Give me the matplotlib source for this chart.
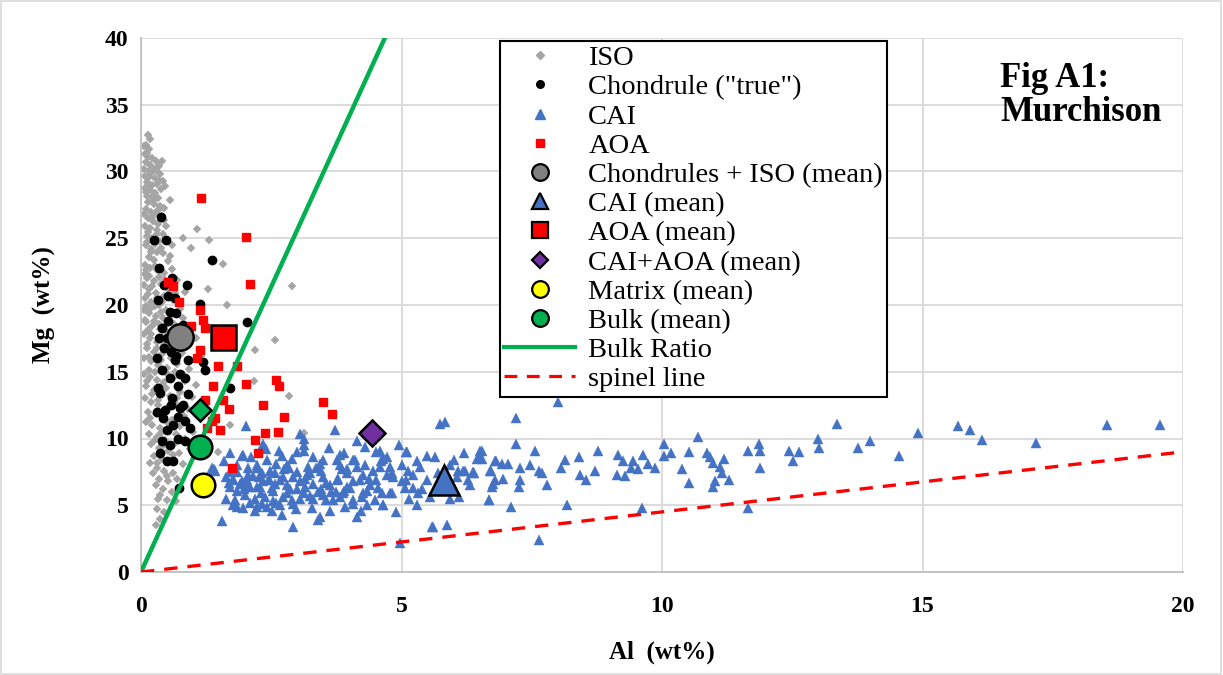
import matplotlib
matplotlib.use("Agg")
import matplotlib.pyplot as plt
from matplotlib.patches import Rectangle
from matplotlib.lines import Line2D

# ---------------- data (Al wt%, Mg wt%) ----------------
iso_al = [0.13,0.18,0.10,0.16,0.08,0.14,0.22,0.10,0.18,0.28,0.06,0.15,0.24,0.34,0.40,
          0.08,0.16,0.26,0.36,0.12,0.22,0.30,0.42,0.07,0.18,0.27,0.38,0.47,0.11,0.21,0.33,
          0.14,0.25,0.36,0.56,0.10,0.19,0.29,0.40,0.13,0.23,0.33,0.45,
          0.08,0.18,0.30,0.42,0.12,0.22,0.35,0.50,0.60,0.10,0.20,0.30,0.42,0.55,0.80,1.07,1.31,0.96,1.57,0.15,0.25,
          0.07,0.18,0.30,0.45,0.60,0.07,0.12,0.24,0.38,0.52,0.70,0.85,0.16,0.28,0.44,0.62,0.08,0.20,0.35,1.28,2.90,1.65,
          0.05,0.15,0.28,0.42,0.60,0.80,0.10,0.22,0.36,0.50,0.72,0.95,0.05,0.18,0.30,0.45,0.62,1.05,0.12,0.25,0.40,0.58,0.78,1.15,
          0.05,0.20,0.33,0.50,0.70,0.92,0.15,2.57,2.19,
          0.05,0.18,0.30,0.45,0.62,0.85,1.05,0.10,0.24,0.38,0.55,0.75,0.98,0.08,0.20,0.33,0.50,0.68,0.90,1.12,0.14,0.28,0.42,0.60,0.82,2.17,2.84,
          0.10,0.22,0.36,0.55,0.75,1.00,1.71,0.15,0.30,0.46,0.65,0.85,0.20,0.35,0.52,0.72,0.95,1.47,0.25,0.40,0.58,0.80,0.18,3.13,
          0.30,0.45,0.62,0.23,0.35,0.52,0.70,0.28,0.42,0.60,0.36,0.33,0.50,0.68,0.31,0.45,0.36,0.28,
          0.05,0.12,0.20,0.28,0.35,0.09,0.17,0.25,0.32,0.44,0.06,0.14,0.22,0.31,0.48,0.11,0.19,0.27,0.39,0.52,
          0.09,0.16,0.26,0.34,0.47,0.57,0.05,0.13,0.21,0.31,0.41,0.66,0.10,0.18,0.26,0.38,0.48,0.75,0.07,0.14,
          0.24,0.35,0.46,0.64,0.12,0.20,0.30,0.40,0.55,0.78,0.16,0.26,0.38,0.50,0.65,0.22,0.32,0.48,0.38,0.26,
          0.12,0.40,0.70,0.18,0.50,0.68,0.45,0.62,0.30,0.50]
iso_mg = [32.7,32.4,32.0,31.7,31.3,31.1,31.0,30.7,30.5,30.8,30.2,30.0,30.2,30.4,30.8,
          29.7,29.6,29.5,29.8,29.2,29.0,29.1,29.3,28.8,28.6,28.4,28.7,28.9,28.2,28.1,28.0,
          27.7,27.6,27.4,27.9,27.2,27.0,26.9,26.7,26.5,26.3,26.1,26.4,
          25.9,25.8,25.6,25.3,25.2,25.0,24.8,24.9,24.5,24.5,24.2,24.0,23.9,23.7,25.0,25.7,24.9,24.3,23.1,23.6,23.4,
          23.0,22.8,22.6,22.4,22.7,22.3,22.0,21.8,21.6,21.2,21.9,21.0,21.2,20.9,20.7,20.4,20.5,20.2,20.0,21.2,21.4,20.0,
          19.6,19.4,19.2,19.0,19.3,19.0,18.7,18.4,18.2,18.0,18.3,18.0,17.8,17.5,17.2,17.0,17.3,17.5,16.8,16.5,16.3,16.0,16.4,16.2,
          16.0,15.8,15.5,15.3,15.6,15.2,15.1,17.4,16.6,
          14.8,14.6,14.4,14.2,14.5,14.3,14.0,13.9,13.6,13.4,13.2,13.5,13.1,13.0,12.7,12.5,12.3,12.6,12.2,12.5,12.0,11.8,11.6,11.4,11.7,14.3,13.2,
          11.2,11.0,10.8,10.6,10.9,10.5,11.0,10.3,10.1,9.9,9.7,10.0,9.6,9.3,9.1,8.9,9.2,9.0,8.7,8.5,8.3,8.1,8.2,10.4,
          7.8,7.6,7.4,7.4,7.0,6.8,7.0,6.5,6.2,6.0,5.8,5.5,5.4,5.3,4.7,4.5,4.0,3.5,
          31.9,31.4,29.9,30.1,29.4,28.5,28.9,27.9,27.1,27.3,26.8,25.5,26.6,25.3,25.9,24.7,24.0,24.6,24.3,23.3,
          22.6,22.2,22.9,22.1,21.9,21.5,21.5,20.8,21.4,20.5,20.2,20.9,19.9,19.7,19.9,19.5,19.6,19.7,18.9,18.1,
          18.8,18.6,18.4,18.6,17.1,17.8,16.8,17.6,16.7,17.0,16.1,15.0,15.9,14.8,15.0,13.3,12.9,13.8,10.4,9.9,
          14.3,14.0,13.0,11.5,11.2,10.3,9.5,8.8,8.2,7.2]

chon_al = [0.38,0.25,0.48,1.37,0.35,0.88,0.33,0.52,1.13,0.56,0.68,0.52,2.03,0.40,0.62,0.75,0.90,0.45,0.58,0.90,
           1.19,1.23,0.65,0.40,0.75,0.55,0.71,0.33,1.71,0.90,0.36,0.60,0.46,0.71,0.84,0.49,0.62,0.71,0.55,0.36,
           0.49,0.61,0.73,0.80,0.45,0.60,0.50,0.68,0.85,0.42,0.58,0.75,0.30,0.35,0.80,0.65,0.95,0.85,0.40,0.30]
chon_mg = [26.6,24.9,24.9,23.4,22.8,21.5,20.4,20.7,20.1,19.5,19.4,18.8,18.7,18.3,18.0,17.0,17.3,16.8,16.5,15.9,
           15.7,15.1,15.9,15.1,14.8,14.5,13.9,13.8,13.8,13.3,13.4,13.0,12.1,11.6,11.3,10.6,11.0,10.0,9.5,8.9,
           8.3,8.3,6.3,12.5,21.5,22.0,17.5,16.2,14.5,11.5,12.5,12.3,16.0,17.5,18.5,20.5,10.8,9.8,9.8,12.0]

cai_al = [8.00,7.19,7.19,6.54,6.51,6.79,6.92,7.05,6.39,6.70,6.75,6.73,6.95,7.27,7.27,7.26,7.47,7.63,7.69,7.56,
          7.80,6.68,7.10,7.64,8.18,8.14,8.07,8.41,8.43,8.54,8.71,8.77,9.15,9.14,9.26,9.29,9.45,9.40,9.53,9.64,
          9.74,9.87,9.61,10.03,10.03,10.18,10.38,10.51,10.52,10.70,10.86,10.93,10.97,11.19,11.11,11.16,11.29,11.02,10.98,11.66,
          11.87,11.88,11.88,11.66,12.44,12.51,12.62,13.00,13.02,13.35,13.77,14.00,14.55,14.92,15.69,15.92,16.14,17.18,18.55,19.55,
          5.74,5.84,5.09,5.48,5.29,4.72,4.78,4.81,5.13,5.23,5.09,5.07,5.23,5.32,4.81,5.55,5.14,5.29,4.65,5.48,
          5.93,6.09,6.22,6.38,6.06,6.28,6.31,6.10,5.93,6.51,6.54,6.71,6.79,6.67,6.82,5.60,5.87,4.97,
          2.02,3.72,4.14,3.12,3.12,3.12,1.71,1.95,2.65,1.40,1.64,1.64,1.55,2.92,3.40,4.14,2.70,2.22,2.51,3.76,
          3.82,3.44,4.52,4.65,4.11,2.89,2.80,2.41,2.60,2.22,2.06,1.84,1.93,2.06,2.22,2.35,2.51,2.67,2.80,2.92,
          3.05,3.18,3.31,3.50,3.63,3.79,3.95,4.07,4.27,4.40,4.27,4.07,4.33,3.88,3.69,3.50,3.31,3.12,2.92,2.73,
          2.54,2.38,2.19,2.00,1.84,1.71,1.76,1.96,2.32,4.65,4.49,4.62,4.72,3.95,3.82,3.50,3.21,2.57,2.32,1.77,
          1.36,1.93,5.10,5.58,6.00,6.19,6.38,6.44,4.59,4.84,4.78,3.44,2.19,1.84,1.77,2.03,2.28,2.54,2.80,3.05,
          3.56,3.82,4.07,4.33,4.52,4.59,4.30,4.07,3.76,3.24,2.99,2.73,2.48,2.22,2.09,1.71,1.42,
          2.15,2.45,2.75,3.00,3.35,3.65,3.95,4.20,2.60,2.90,3.25,3.55,3.90,4.25,1.90,2.30,3.40,4.45,
          1.60,1.85,2.12,2.40,2.70,3.00,3.30,3.60,3.90,4.30,1.68,1.98,2.26,2.58,2.86,3.14,3.46,3.74,4.02,4.38,
          1.80,2.10,2.42,2.66,2.98,3.28,3.62,3.92,4.22,4.55,2.05,2.45,2.85,3.15,3.45,3.85,4.15,4.60,5.00,5.35,
          5.00,5.40,5.70,6.00,6.20,4.90,3.05,2.35,4.95,5.65]
cai_mg = [12.7,11.5,9.6,9.1,8.6,8.3,8.1,8.1,7.4,7.6,6.6,6.4,7.0,7.8,6.9,6.4,8.0,7.6,7.4,9.1,
          6.5,5.4,4.9,2.4,5.0,8.4,7.8,8.6,7.3,6.9,7.6,9.1,8.8,7.3,8.3,7.2,8.3,7.8,7.7,8.8,
          8.1,7.8,4.8,9.6,8.7,8.9,7.7,9.0,6.7,10.1,8.9,8.6,8.2,8.5,7.9,7.4,6.9,6.8,6.4,9.1,
          9.6,9.1,7.8,4.8,9.1,8.3,9.0,10.0,9.3,11.1,9.3,9.8,8.7,10.4,10.9,10.6,9.9,9.7,11.0,11.0,
          11.1,11.2,9.0,8.7,8.3,8.6,7.9,7.4,7.6,7.3,6.9,6.3,6.3,5.9,5.9,5.6,5.5,5.0,5.0,6.9,
          8.0,7.6,7.6,7.5,7.1,6.9,6.5,5.6,5.5,9.1,8.5,7.6,6.9,5.4,8.3,3.4,3.5,2.2,
          10.9,10.6,9.8,10.0,9.5,9.1,8.9,8.8,9.1,7.7,7.1,5.5,3.8,3.4,3.9,4.1,4.3,4.9,4.6,8.4,
          8.8,8.1,9.0,8.5,8.4,8.5,8.0,8.4,8.1,8.0,7.8,7.5,6.8,6.4,6.4,6.8,6.3,6.9,6.5,7.1,
          6.8,7.3,6.6,7.1,6.5,7.0,7.4,6.8,7.3,6.5,5.9,5.4,5.0,5.9,5.4,5.8,5.5,5.9,5.1,5.6,
          5.3,5.6,5.5,5.8,6.1,6.4,5.0,4.8,5.1,5.0,5.4,5.9,7.3,6.4,8.0,8.4,7.9,7.4,7.4,7.0,
          7.8,8.7,9.0,3.4,8.4,7.6,7.4,8.5,9.1,7.1,5.9,4.1,4.6,4.9,6.9,6.9,6.4,6.1,5.9,5.5,
          5.4,5.6,5.1,6.1,6.9,7.9,8.0,8.4,6.9,7.4,7.5,7.1,7.6,7.8,6.4,7.5,7.6,
          7.2,6.9,7.7,6.2,7.8,6.0,7.7,6.9,5.2,5.4,5.7,6.7,6.1,5.6,6.6,5.9,6.0,7.6,
          8.3,8.0,8.6,9.2,8.7,9.0,8.6,9.3,8.9,9.4,6.7,6.2,7.1,6.6,6.2,6.4,6.2,6.0,6.3,7.0,
          5.4,5.2,4.9,5.0,4.7,4.8,4.6,4.9,4.6,6.3,7.3,7.0,7.8,7.0,7.6,7.7,7.9,8.3,8.0,7.9,
          6.8,6.2,7.4,6.3,8.9,4.5,10.3,9.6,9.5,8.6]

aoa_al = [1.15,2.02,2.09,0.52,0.62,0.72,1.13,1.19,1.23,0.96,1.13,1.08,1.47,1.85,1.39,2.02,2.59,2.64,1.58,1.23,
          1.68,2.35,3.50,3.66,2.74,1.36,1.26,1.52,2.38,2.62,2.19,2.24,1.75,1.42]
aoa_mg = [28.0,25.1,21.6,21.7,21.4,20.2,19.6,18.9,18.3,18.4,16.6,16.0,15.4,15.4,13.9,14.1,14.4,13.9,12.9,12.9,
          12.2,12.5,12.7,11.8,11.6,11.3,10.8,10.6,10.4,10.5,9.9,8.9,7.8,11.5]

# means (Al, Mg)
chiso_mean = (0.75, 17.6)
cai_mean = (5.82, 6.9)
aoa_mean = (1.57, 17.6)
caiaoa_mean = (4.43, 10.4)
matrix_mean = (1.19, 6.5)
bulk_mean = (1.13, 9.4)
extra_diamond = (1.13, 12.1)

bulk_ratio_al = [0, 4.68]
bulk_ratio_mg = [0, 40]
spinel_al = [0, 20]
spinel_mg = [0, 9.0]

x_ticks = [0, 5, 10, 15, 20]
y_ticks = [0, 5, 10, 15, 20, 25, 30, 35, 40]

# ---------------- figure ----------------
plt.rcParams['font.family'] = ['Liberation Serif', 'DejaVu Serif']
fig = plt.figure(figsize=(12.23, 6.75), dpi=100)
ax = fig.add_axes([141/1223, 1-572/675, (1183-141)/1223, (572-38)/675])

ax.set_xlim(0, 20)
ax.set_ylim(0, 40)
ax.set_xticks(x_ticks)
ax.set_yticks(y_ticks)
ax.grid(True, color='#D9D9D9', linewidth=1.3, zorder=0)
ax.set_axisbelow(True)
for s in ['top', 'right']:
    ax.spines[s].set_visible(False)
for s in ['left', 'bottom']:
    ax.spines[s].set_color('#BFBFBF')
    ax.spines[s].set_linewidth(1.3)
ax.tick_params(length=0, labelsize=17)
ax.tick_params(axis='x', pad=17)
ax.tick_params(axis='y', pad=9)
for lab in ax.get_xticklabels() + ax.get_yticklabels():
    lab.set_fontweight('bold')

ax.plot(iso_al, iso_mg, linestyle='none', marker='D', ms=4.3, color='#A5A5A5', mec='#A5A5A5', mew=0.3, label='ISO', zorder=2)
ax.plot(chon_al, chon_mg, linestyle='none', marker='o', ms=6.0, color='black', label='Chondrule ("true")', zorder=3)
ax.plot(cai_al, cai_mg, linestyle='none', marker='^', ms=7.0, color='#4472C4', mec='#4472C4', mew=0.3, label='CAI', zorder=3)
ax.plot(aoa_al, aoa_mg, linestyle='none', marker='s', ms=6.4, color='#FF0000', mec='#FF0000', label='AOA', zorder=4)

ax.plot(bulk_ratio_al, bulk_ratio_mg, color='#00B050', lw=3.2, zorder=5)
ax.plot(spinel_al, spinel_mg, color='#FF0000', lw=2.4, ls=(0, (4, 3)), zorder=5)

kw = dict(linestyle='none', mec='black', mew=1.8, zorder=6)
ax.plot(*chiso_mean, marker='o', ms=19, color='#808080', **kw)
ax.plot(*cai_mean, marker='^', ms=21, color='#4472C4', **kw)
ax.plot(*aoa_mean, marker='s', ms=18, color='#FF0000', **kw)
ax.plot(*caiaoa_mean, marker='D', ms=13, color='#7030A0', **kw)
ax.plot(*matrix_mean, marker='o', ms=17, color='#FFFF00', **kw)
ax.plot(*bulk_mean, marker='o', ms=17, color='#00B050', **kw)
ax.plot(*extra_diamond, marker='D', ms=11.5, color='#00B050', **kw)

lk = dict(linestyle='none', mec='black', mew=1.6)
legend_handles = [
    Line2D([], [], marker='D', ms=3.8, color='#A5A5A5', linestyle='none'),
    Line2D([], [], marker='o', ms=5.5, color='black', linestyle='none'),
    Line2D([], [], marker='^', ms=6.5, color='#4472C4', linestyle='none'),
    Line2D([], [], marker='s', ms=6.2, color='#FF0000', linestyle='none'),
    Line2D([], [], marker='o', ms=12, color='#808080', **lk),
    Line2D([], [], marker='^', ms=12, color='#4472C4', **lk),
    Line2D([], [], marker='s', ms=12, color='#FF0000', **lk),
    Line2D([], [], marker='D', ms=8.5, color='#7030A0', **lk),
    Line2D([], [], marker='o', ms=12, color='#FFFF00', **lk),
    Line2D([], [], marker='o', ms=12, color='#00B050', **lk),
    Line2D([], [], color='#00B050', lw=3),
    Line2D([], [], color='#FF0000', lw=2.3, ls=(0, (4, 3))),
]
legend_labels = ['ISO', 'Chondrule ("true")', 'CAI', 'AOA', 'Chondrules + ISO (mean)', 'CAI (mean)',
                 'AOA (mean)', 'CAI+AOA (mean)', 'Matrix (mean)', 'Bulk (mean)', 'Bulk Ratio', 'spinel line']
leg = ax.legend(legend_handles, legend_labels, loc='upper left',
                bbox_to_anchor=((500-141)/1042, (572-41)/534), fontsize=20.5,
                frameon=True, fancybox=False, edgecolor='black', framealpha=1,
                handlelength=2.5, handletextpad=0.45, labelspacing=0.115, borderpad=0.15,
                borderaxespad=0)
leg.get_frame().set_linewidth(1.5)
leg.set_zorder(10)

ax.text((1000-141)/1042, (572-62)/534, 'Fig A1:\nMurchison', transform=ax.transAxes,
        fontsize=25, fontweight='bold', va='top', ha='left', linespacing=1.05, zorder=11)

ax.set_xlabel('Al  (wt%)', fontsize=18, fontweight='bold', labelpad=17)
ax.set_ylabel('Mg  (wt%)', fontsize=18, fontweight='bold', labelpad=35)

fig.patches.append(Rectangle((0.001, 0.002), 0.997, 0.996, transform=fig.transFigure,
                             fill=False, edgecolor='#D9D9D9', lw=1.2))

fig.savefig('out.png', dpi=100)
